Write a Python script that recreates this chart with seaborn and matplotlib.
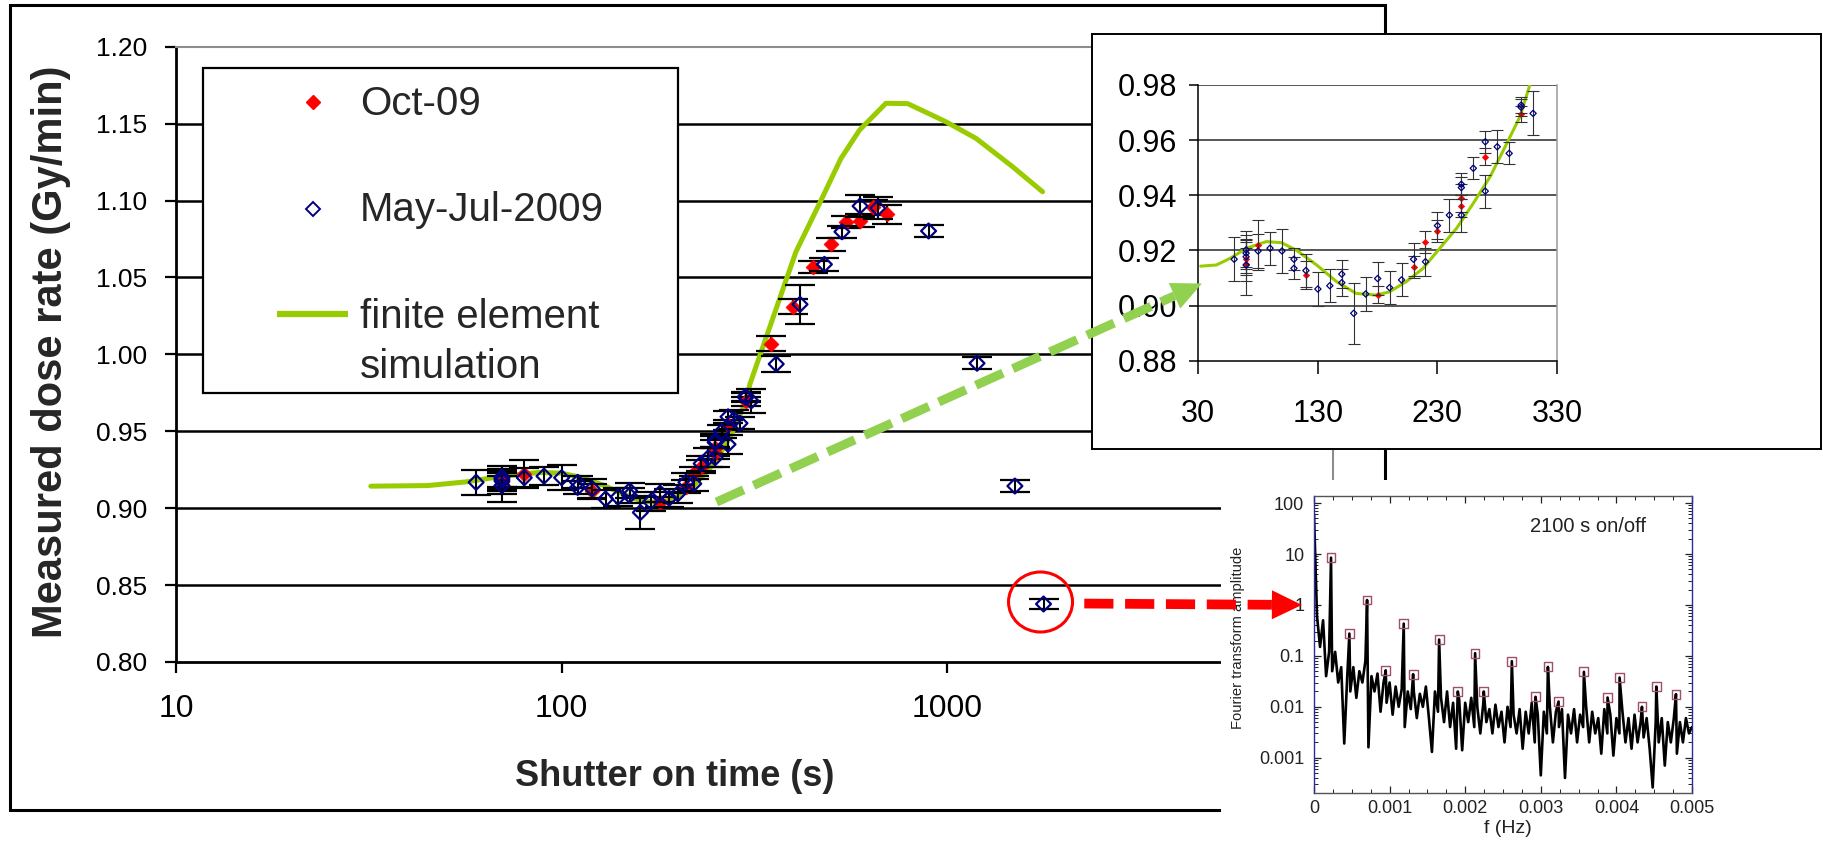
import matplotlib
matplotlib.use("Agg")
import matplotlib.pyplot as plt
import numpy as np
import pandas as pd
import seaborn as sns
from matplotlib.patches import Ellipse, Polygon, Rectangle
from matplotlib.ticker import FixedLocator, FuncFormatter, MultipleLocator, NullLocator

# ---------------------------------------------------------------------------
# Data
# ---------------------------------------------------------------------------
# Oct-09 measurements (red filled diamonds)
oct_t = [70, 70, 80, 120, 180, 210, 220, 230, 250, 250, 270, 300,
         349, 397, 448, 500, 546, 592, 641, 696]
oct_rate = [0.917, 0.915, 0.922, 0.911, 0.904, 0.914, 0.923, 0.927, 0.939, 0.936,
            0.954, 0.9695, 1.007, 1.031, 1.057, 1.0715, 1.086, 1.087, 1.0956, 1.091]
oct_err = [0.006, 0.006, 0.009, 0.005, 0.003, 0.004, 0.004, 0.004, 0.005, 0.004,
           0.003, 0.003, 0.005, 0.005, 0.004, 0.004, 0.004, 0.004, 0.005, 0.006]

# May-Jul-2009 measurements (open navy diamonds)
may_t = [60, 70, 70, 70, 70, 80, 90, 100, 110, 110, 120, 130, 140, 150, 150,
         160, 170, 180, 190, 200, 210, 220, 230, 240, 250, 250, 250, 260, 270,
         270, 280, 290, 300, 300, 310, 360, 415, 480, 533, 594, 660, 894, 1194,
         1497, 1776]
may_rate = [0.9168, 0.9202, 0.919, 0.9177, 0.9147, 0.9198, 0.9208, 0.9198, 0.9168,
            0.9135, 0.9127, 0.906, 0.9072, 0.9114, 0.9083, 0.8972, 0.9042, 0.9098,
            0.9065, 0.9093, 0.9168, 0.9159, 0.929, 0.9328, 0.944, 0.9428, 0.9328,
            0.9498, 0.9594, 0.9415, 0.9576, 0.9552, 0.9727, 0.9719, 0.9697, 0.9937,
            1.0325, 1.0585, 1.0797, 1.0964, 1.095, 1.0802, 0.9942, 0.9144, 0.8377]
may_err = [0.008, 0.007, 0.005, 0.006, 0.011, 0.006, 0.006, 0.008, 0.004, 0.004,
           0.006, 0.006, 0.006, 0.005, 0.005, 0.011, 0.006, 0.006, 0.006, 0.006,
           0.006, 0.005, 0.005, 0.006, 0.004, 0.004, 0.006, 0.004, 0.004, 0.006,
           0.006, 0.004, 0.003, 0.003, 0.008, 0.005, 0.0125, 0.004, 0.004, 0.007,
           0.007, 0.004, 0.004, 0.004, 0.003]

# finite element simulation curve
sim_t = [32, 45, 56.5, 70.4, 87, 99.6, 112, 129, 145.6, 162, 179, 190, 204, 218,
         232, 246, 260, 274, 288, 299, 308, 342, 405, 466, 530, 592, 693, 789,
         992, 1187, 1476, 1766]
sim_rate = [0.9143, 0.9147, 0.9171, 0.9208, 0.9232, 0.9228, 0.9201, 0.9147, 0.9087,
            0.9044, 0.9038, 0.905, 0.9087, 0.9135, 0.9208, 0.928, 0.9371, 0.9467,
            0.9588, 0.9685, 0.981, 1.0137, 1.0667, 1.098, 1.1274, 1.1458, 1.1632,
            1.163, 1.1512, 1.1404, 1.122, 1.1057]

main_yticks = [0.80, 0.85, 0.90, 0.95, 1.00, 1.05, 1.10, 1.15, 1.20]
main_xticks = [10, 100, 1000]
inset_yticks = [0.88, 0.90, 0.92, 0.94, 0.96, 0.98]
inset_xticks = [30, 130, 230, 330]

# Fourier spectrum of the 2100 s on/off run (uniform FFT bins, 0.00004 Hz apart)
fft_amp = [60, 0.6, 0.15, 0.5, 0.04, 0.12, 0.05, 0.12, 0.03, 0.06,
           0.0019, 0.04, 0.02, 0.06, 0.015, 0.05, 0.03, 0.08, 0.0016, 0.04,
           0.02, 0.045, 0.008, 0.03, 0.012, 0.03, 0.007, 0.025, 0.01, 0.022,
           0.004, 0.02, 0.009, 0.02, 0.006, 0.018, 0.01, 0.025, 0.006, 0.0013,
           0.02, 0.008, 0.015, 0.005, 0.02, 0.004, 0.012, 0.0015, 0.014, 0.0014,
           0.012, 0.005, 0.015, 0.004, 0.01, 0.003, 0.012, 0.005, 0.009, 0.003,
           0.011, 0.004, 0.008, 0.002, 0.01, 0.004, 0.007, 0.003, 0.009, 0.0015,
           0.008, 0.003, 0.012, 0.002, 0.007, 0.00045, 0.008, 0.003, 0.01, 0.002,
           0.008, 0.004, 0.009, 0.0004, 0.007, 0.003, 0.009, 0.002, 0.007, 0.004,
           0.01, 0.002, 0.008, 0.003, 0.006, 0.0012, 0.009, 0.003, 0.007, 0.0011,
           0.006, 0.003, 0.008, 0.002, 0.006, 0.0015, 0.007, 0.002, 0.005, 0.0025,
           0.006, 0.0015, 0.00026, 0.005, 0.002, 0.006, 0.0007, 0.005, 0.002, 0.006,
           0.0012, 0.005, 0.002, 0.006, 0.003, 0.004]
fft_freq = list(np.linspace(0, 0.005, len(fft_amp)))

# marked harmonic peaks (squares)
peak_freq = [0.000225, 0.000468, 0.000702, 0.000949, 0.001187, 0.001311, 0.001655,
             0.001902, 0.002131, 0.002246, 0.002617, 0.00293, 0.003094, 0.003235,
             0.00357, 0.003883, 0.004042, 0.004338, 0.004528, 0.004788]
peak_amp = [8.5, 0.274, 1.25, 0.052, 0.43, 0.0437, 0.209, 0.02, 0.113, 0.02,
            0.0786, 0.0157, 0.0608, 0.0127, 0.0486, 0.0152, 0.0376, 0.01, 0.025, 0.0177]
fft_yticks = [0.001, 0.01, 0.1, 1, 10, 100]
fft_xticks = [0, 0.001, 0.002, 0.003, 0.004, 0.005]

oct_df = pd.DataFrame({"t": oct_t, "rate": oct_rate, "err": oct_err})
may_df = pd.DataFrame({"t": may_t, "rate": may_rate, "err": may_err})
sim_df = pd.DataFrame({"t": sim_t, "rate": sim_rate})
spec_df = pd.DataFrame({"f": fft_freq + peak_freq, "amp": fft_amp + peak_amp}).sort_values("f")
peak_df = pd.DataFrame({"f": peak_freq, "amp": peak_amp})

# ---------------------------------------------------------------------------
# Style
# ---------------------------------------------------------------------------
sns.set_theme(style="white")
plt.rcParams["font.family"] = ["Liberation Sans", "DejaVu Sans"]

RED = "#ff0000"
NAVY = "#000080"
SIM_GREEN = "#99cc00"
ARROW_GREEN = "#92d050"
SQUARE = "#a0506a"

W, H = 1823, 842
fig = plt.figure(figsize=(W / 100, H / 100), dpi=100)


def box(x0, y0, x1, y1):
    """pixel box (top-left origin) -> figure fraction rect"""
    return [x0 / W, 1 - y1 / H, (x1 - x0) / W, (y1 - y0) / H]


def pixel_axes(z):
    a = fig.add_axes([0, 0, 1, 1])
    a.set_xlim(0, W)
    a.set_ylim(H, 0)
    a.axis("off")
    a.set_zorder(z)
    a.patch.set_alpha(0)
    return a


def open_markers(a, edge, lw):
    # seaborn fills scatter markers; make the last collection hollow
    pc = a.collections[-1]
    pc.set_facecolor("none")
    pc.set_edgecolor(edge)
    pc.set_linewidth(lw)


def draw_series(a, ms, lw_marker, err_kw, sim_lw):
    sns.lineplot(data=sim_df, x="t", y="rate", sort=False, estimator=None,
                 color=SIM_GREEN, lw=sim_lw, ax=a, zorder=2)
    a.errorbar(oct_df.t, oct_df.rate, yerr=oct_df.err, fmt="none", zorder=3, **err_kw)
    sns.scatterplot(data=oct_df, x="t", y="rate", marker="D", s=ms ** 2, color=RED,
                    edgecolor=RED, linewidth=0.5, ax=a, zorder=4, legend=False)
    a.errorbar(may_df.t, may_df.rate, yerr=may_df.err, fmt="none", zorder=5, **err_kw)
    sns.scatterplot(data=may_df, x="t", y="rate", marker="D", s=ms ** 2, color=NAVY,
                    edgecolor=NAVY, ax=a, zorder=6, legend=False)
    open_markers(a, NAVY, lw_marker)


# background: outer frame of the main chart
bg = pixel_axes(0)
bg.add_patch(Rectangle((10, 5), 1375, 805, fill=False, ec="black", lw=2.2))

# ---------------------------------------------------------------------------
# Main chart
# ---------------------------------------------------------------------------
ax = fig.add_axes(box(176, 46.7, 1333, 662))
ax.set_zorder(1)
ax.set_facecolor("white")
ax.set_xscale("log")
draw_series(ax, ms=7.6, lw_marker=1.6,
            err_kw=dict(ecolor="black", elinewidth=1.5, capsize=10.5, capthick=1.6),
            sim_lw=3.6)
ax.set_xlim(10, 10000)
ax.set_ylim(0.80, 1.20)
for lev in main_yticks[1:-1]:
    ax.axhline(lev, color="black", lw=1.8, zorder=1)
ax.xaxis.set_major_locator(FixedLocator(main_xticks))
ax.xaxis.set_minor_locator(NullLocator())
ax.xaxis.set_major_formatter(FuncFormatter(lambda v, p: f"{v:g}"))
ax.yaxis.set_major_locator(FixedLocator(main_yticks))
ax.yaxis.set_major_formatter(FuncFormatter(lambda v, p: f"{v:.2f}"))
ax.tick_params(axis="y", left=True, direction="out", length=8, width=1.6,
               labelsize=19, pad=13, colors="black")
ax.tick_params(axis="x", bottom=True, direction="out", length=8, width=1.6,
               labelsize=23, pad=15, colors="black")
for side in ["left", "bottom"]:
    ax.spines[side].set_color("black")
    ax.spines[side].set_linewidth(2)
for side in ["top", "right"]:
    ax.spines[side].set_color("#8c8c8c")
    ax.spines[side].set_linewidth(1.5)
ax.set_xlabel("Shutter on time (s)", fontsize=26, fontweight="bold")
ax.set_ylabel("Measured dose rate (Gy/min)", fontsize=30, fontweight="bold")
ax.xaxis.set_label_coords(0.431, -0.158)
ax.yaxis.set_label_coords(-0.091, 0.505)

# ---------------------------------------------------------------------------
# Zoomed linear inset (30-330 s)
# ---------------------------------------------------------------------------
frame = fig.add_axes(box(1092, 34, 1821, 449))
frame.set_zorder(3)
frame.set_facecolor("white")
frame.set_xticks([])
frame.set_yticks([])
for s in frame.spines.values():
    s.set_color("black")
    s.set_linewidth(1.4)

ia = fig.add_axes(box(1198.3, 85, 1557, 360.7))
ia.set_zorder(4)
ia.patch.set_alpha(0)
draw_series(ia, ms=3.2, lw_marker=0.9,
            err_kw=dict(ecolor="#333333", elinewidth=0.8, capsize=4.5, capthick=0.8),
            sim_lw=2.2)
ia.set_xlim(30, 330)
ia.set_ylim(0.88, 0.98)
for lev in inset_yticks[1:]:
    ia.axhline(lev, color="#3a3a3a", lw=1.2, zorder=1)
ia.set_xticks(inset_xticks)
ia.set_yticks(inset_yticks)
ia.yaxis.set_major_formatter(FuncFormatter(lambda v, p: f"{v:.2f}"))
ia.tick_params(axis="y", left=True, direction="out", length=6.5, width=1.1,
               labelsize=22, pad=9, colors="black")
ia.tick_params(axis="x", bottom=True, direction="out", length=9.5, width=1.1,
               labelsize=22, pad=18, colors="black")
ia.spines["left"].set_color("black")
ia.spines["bottom"].set_color("black")
ia.spines["top"].set_visible(False)
ia.spines["right"].set_color("#9a9a9a")
for s in ia.spines.values():
    s.set_linewidth(1.1)
ia.set_xlabel("")
ia.set_ylabel("")

# ---------------------------------------------------------------------------
# Fourier transform inset
# ---------------------------------------------------------------------------
fbg = fig.add_axes(box(1221, 480, 1823, 842))
fbg.set_zorder(5)
fbg.set_facecolor("white")
fbg.axis("off")
fbg.add_patch(Rectangle((0, 0), 1, 1, transform=fbg.transAxes, color="white"))

fa = fig.add_axes(box(1314, 495.7, 1692, 793.3))
fa.set_zorder(6)
fa.set_facecolor("white")
fa.set_yscale("log")
sns.lineplot(data=spec_df, x="f", y="amp", sort=False, estimator=None,
             color="black", lw=1.9, ax=fa, zorder=2)
sns.scatterplot(data=peak_df, x="f", y="amp", marker="s", s=40, color=SQUARE,
                edgecolor=SQUARE, ax=fa, zorder=3, legend=False)
open_markers(fa, SQUARE, 1.0)
fa.set_xlim(0, 0.005)
fa.set_ylim(2e-4, 140)
fa.xaxis.set_major_locator(FixedLocator(fft_xticks))
fa.xaxis.set_minor_locator(MultipleLocator(0.00025))
fa.xaxis.set_major_formatter(FuncFormatter(lambda v, p: f"{v:g}"))
fa.yaxis.set_major_locator(FixedLocator(fft_yticks))
fa.yaxis.set_major_formatter(FuncFormatter(lambda v, p: f"{v:g}"))
fa.tick_params(which="both", direction="in", top=True, bottom=True, left=True,
               right=True, colors="#222222")
fa.tick_params(which="major", length=5, width=0.9, labelsize=13)
fa.tick_params(which="minor", length=3, width=0.7)
fa.tick_params(axis="y", pad=7)
fa.tick_params(axis="x", pad=5)
fa.spines["left"].set_color("#2b2b9a")
fa.spines["right"].set_color("#2b2b9a")
fa.spines["top"].set_color("#555555")
fa.spines["bottom"].set_color("#555555")
for s in fa.spines.values():
    s.set_linewidth(1.0)
fa.set_ylabel("Fourier transform amplitude", fontsize=10.6, color="#222222")
fa.set_xlabel("f (Hz)", fontsize=14, color="#222222")
fa.yaxis.set_label_coords(-0.183, 0.522)
fa.xaxis.set_label_coords(0.514, -0.09)
fa.text(0.725, 0.895, "2100 s on/off", transform=fa.transAxes, fontsize=14.5,
        ha="center", va="center", color="#222222")

# ---------------------------------------------------------------------------
# Legend, arrows and circle drawn on top of everything
# ---------------------------------------------------------------------------
top = pixel_axes(10)


def to_px(a, x, y):
    return top.transData.inverted().transform(a.transData.transform((x, y)))


def dashed_arrow(p0, p1, color, lw, dash, head_len, head_w):
    p0, p1 = np.asarray(p0, float), np.asarray(p1, float)
    u = (p1 - p0) / np.hypot(*(p1 - p0))
    base = p1 - u * head_len
    top.plot([p0[0], base[0]], [p0[1], base[1]], color=color, lw=lw, ls=(0, dash),
             dash_capstyle="butt", solid_capstyle="butt")
    n = np.array([-u[1], u[0]])
    top.add_patch(Polygon([p1, base + n * head_w, base - n * head_w], closed=True,
                          fc=color, ec="none"))


# legend box (white, hides the gridlines behind it)
top.add_patch(Rectangle((203, 68), 475, 325, fc="white", ec="black", lw=1.6))
top.plot([313], [102], marker="D", ms=7.6, color=RED, mec=RED)
top.plot([313], [209], marker="D", ms=7.6, mfc="none", mec=NAVY, mew=1.4)
top.plot([277, 348], [314, 314], color=SIM_GREEN, lw=4.5, solid_capstyle="butt")
leg_fs = 29
top.text(360, 115, "Oct-09", fontsize=leg_fs, va="baseline")
top.text(360, 221, "May-Jul-2009", fontsize=leg_fs, va="baseline")
top.text(360, 328, "finite element", fontsize=leg_fs, va="baseline")
top.text(360, 378, "simulation", fontsize=leg_fs, va="baseline")

# green arrow: main curve minimum -> zoomed inset
dashed_arrow(to_px(ax, 252, 0.904), to_px(ia, 33, 0.908), ARROW_GREEN, 6.5,
             (3.3, 1.2), 30, 14)

# red circle + arrow: the 1776 s point -> its Fourier spectrum
cx, cy = to_px(ax, may_t[-1], may_rate[-1])
top.add_patch(Ellipse((cx - 3, cy - 2), 64, 60, fill=False, ec=RED, lw=2.2))
dashed_arrow(to_px(ax, 2265, 0.838), to_px(fa, -0.00016, 1.0), RED, 7.0,
             (3.0, 1.2), 30, 14.5)

fig.savefig("out.png", dpi=100, facecolor="white")
